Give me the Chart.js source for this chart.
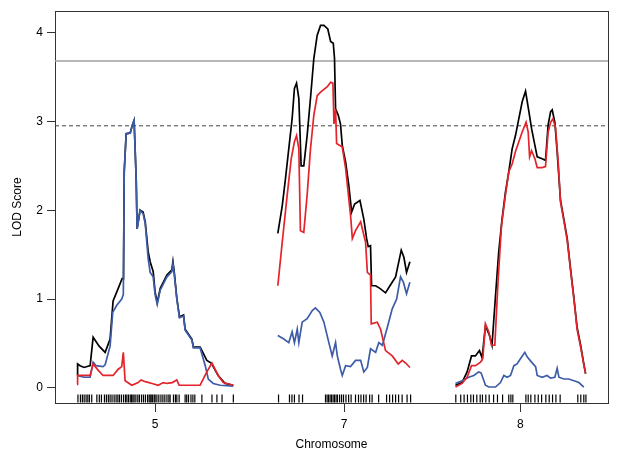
<!DOCTYPE html>
<html>
<head>
<meta charset="utf-8">
<script src="https://cdn.jsdelivr.net/npm/chart.js@4.4.0/dist/chart.umd.min.js"></script>
<style>
  html, body { margin: 0; padding: 0; background: #fff; }
  canvas { display: block; }
</style>
</head>
<body>
<canvas id="lodChart" width="619" height="455"></canvas>
<script>
/*
  DATA (positions in cM within each chromosome, LOD scores)
*/
const chromNames = ["5", "7", "8"];
const chromLengths = [88.5, 75.4, 74.3];
const chromGap = 25;
const yTickValues = [0, 1, 2, 3, 4];

const thresholdSolid = 3.68;
const thresholdDashed = 2.95;

// chromosome 5
const chr5BlackPos = [0, 0.3, 1.7, 4.0, 7.4, 9.1, 12.5, 15.9, 18.7, 20.4, 23.3, 25.5, 26.3, 26.7, 27.8, 30.1, 31.2, 32.3, 33.5, 34.0, 35.7, 37.4, 38.6, 40.3, 41.4, 43.1, 44.2, 45.4, 47.1, 50.9, 53.7, 54.3, 55.0, 56.5, 58.0, 60.3, 61.2, 65.0, 65.9, 69.7, 73.5, 76.0, 79.9, 83.9, 88.5];
const chr5BlackLod = [0.14, 0.27, 0.25, 0.23, 0.25, 0.57, 0.47, 0.40, 0.55, 0.98, 1.12, 1.23, 1.23, 2.43, 2.86, 2.87, 2.95, 3.01, 2.34, 1.79, 2.00, 1.98, 1.87, 1.53, 1.42, 1.31, 1.08, 0.96, 1.12, 1.27, 1.33, 1.42, 1.31, 1.01, 0.80, 0.82, 0.66, 0.55, 0.46, 0.46, 0.31, 0.28, 0.14, 0.05, 0.03];
const chr5BluePos = [0, 4.0, 7.4, 9.1, 10.8, 14.7, 15.9, 18.7, 20.2, 22.5, 25.3, 26.2, 26.7, 27.8, 30.1, 31.2, 32.3, 33.5, 34.0, 35.7, 37.4, 38.6, 40.3, 41.4, 43.1, 44.2, 45.4, 47.1, 50.9, 53.7, 54.3, 55.0, 56.5, 58.0, 60.3, 61.2, 65.0, 65.9, 69.7, 72.6, 74.3, 77.1, 81.1, 88.5];
const chr5BlueLod = [0.14, 0.12, 0.12, 0.29, 0.25, 0.24, 0.26, 0.47, 0.85, 0.93, 1.00, 1.05, 2.43, 2.86, 2.87, 2.95, 3.01, 2.34, 1.79, 2.00, 1.96, 1.85, 1.45, 1.30, 1.25, 1.05, 0.94, 1.10, 1.25, 1.31, 1.40, 1.29, 1.00, 0.79, 0.81, 0.65, 0.54, 0.45, 0.45, 0.25, 0.10, 0.05, 0.03, 0.02];
const chr5RedPos = [0, 0.3, 4.0, 7.4, 9.1, 11.9, 14.7, 20.4, 23.3, 25.3, 26.2, 27.2, 31.0, 34.6, 36.3, 38.6, 42.5, 45.9, 48.8, 51.0, 53.9, 56.5, 57.8, 69.7, 73.5, 76.4, 79.9, 82.8, 88.5];
const chr5RedLod = [0.04, 0.14, 0.14, 0.14, 0.27, 0.20, 0.14, 0.14, 0.21, 0.24, 0.40, 0.08, 0.03, 0.06, 0.09, 0.07, 0.05, 0.03, 0.06, 0.05, 0.06, 0.09, 0.03, 0.03, 0.18, 0.28, 0.14, 0.06, 0.03];

// chromosome 7
const chr7BlackPos = [0.2, 2.7, 4.5, 6.4, 8.3, 9.6, 10.8, 12.1, 13.4, 14.9, 16.8, 18.7, 20.6, 22.5, 24.4, 26.3, 28.5, 30.1, 31.6, 32.3, 32.9, 34.4, 35.7, 36.7, 38.6, 40.4, 42.0, 43.7, 46.7, 48.9, 50.5, 51.4, 52.7, 53.3, 55.6, 58.0, 61.2, 63.7, 66.9, 70.1, 71.6, 73.1, 75.0];
const chr7BlackLod = [1.74, 2.05, 2.35, 2.69, 3.03, 3.37, 3.43, 3.26, 2.50, 2.50, 2.84, 3.26, 3.71, 3.97, 4.08, 4.08, 4.04, 3.90, 3.88, 3.71, 3.14, 3.07, 2.97, 2.73, 2.54, 2.28, 1.98, 2.07, 2.11, 1.90, 1.68, 1.59, 1.60, 1.15, 1.15, 1.12, 1.07, 1.15, 1.25, 1.55, 1.47, 1.30, 1.42];
const chr7BluePos = [0.2, 3.6, 6.4, 8.3, 9.6, 11.2, 12.1, 14.0, 16.8, 19.7, 21.5, 24.0, 26.3, 29.1, 31.0, 32.9, 33.9, 35.7, 36.7, 38.6, 41.4, 44.2, 47.1, 48.9, 50.9, 52.7, 55.6, 57.4, 59.4, 62.2, 65.0, 67.5, 69.7, 71.3, 73.1, 75.0];
const chr7BlueLod = [0.59, 0.55, 0.51, 0.63, 0.51, 0.66, 0.51, 0.74, 0.78, 0.87, 0.90, 0.85, 0.74, 0.51, 0.36, 0.51, 0.36, 0.21, 0.14, 0.25, 0.24, 0.31, 0.31, 0.18, 0.23, 0.44, 0.40, 0.51, 0.48, 0.68, 0.89, 1.00, 1.25, 1.19, 1.06, 1.19];
const chr7RedPos = [0.2, 2.7, 5.5, 7.8, 9.6, 10.8, 12.1, 13.0, 14.9, 16.8, 18.7, 20.6, 22.5, 24.4, 28.2, 30.1, 31.4, 32.0, 32.9, 33.5, 36.7, 38.6, 41.4, 42.4, 44.2, 47.1, 49.9, 50.9, 52.7, 53.1, 56.5, 58.4, 61.2, 65.0, 68.4, 70.7, 72.6, 75.0];
const chr7RedLod = [1.15, 1.64, 2.17, 2.58, 2.77, 2.84, 2.69, 1.77, 1.75, 2.17, 2.69, 3.07, 3.29, 3.33, 3.39, 3.44, 3.43, 2.97, 3.14, 2.75, 2.71, 2.47, 1.94, 1.68, 1.77, 1.87, 1.64, 1.30, 1.27, 0.72, 0.74, 0.66, 0.42, 0.36, 0.27, 0.31, 0.28, 0.23];

// chromosome 8
const chr8BlackPos = [0.4, 4.1, 7.0, 9.5, 11.7, 14.0, 15.5, 17.4, 19.7, 21.1, 23.1, 24.9, 26.8, 28.7, 30.6, 32.5, 34.4, 36.3, 38.2, 40.1, 42.0, 43.5, 45.4, 46.7, 49.5, 51.4, 52.9, 54.3, 55.2, 56.7, 58.0, 59.9, 61.8, 63.7, 65.6, 67.5, 69.3, 71.3, 73.1, 74.1];
const chr8BlackLod = [0.03, 0.06, 0.18, 0.36, 0.36, 0.42, 0.34, 0.70, 0.59, 0.48, 1.04, 1.53, 1.90, 2.20, 2.43, 2.69, 2.84, 3.03, 3.22, 3.34, 3.11, 2.92, 2.73, 2.60, 2.58, 2.56, 2.96, 3.11, 3.13, 2.99, 2.66, 2.11, 1.90, 1.68, 1.34, 1.01, 0.68, 0.48, 0.27, 0.16];
const chr8BluePos = [0.4, 4.1, 7.9, 10.8, 13.6, 14.9, 17.4, 19.3, 23.1, 25.9, 27.8, 29.7, 31.6, 33.5, 35.3, 37.3, 39.7, 41.0, 43.5, 45.8, 46.7, 49.5, 52.3, 54.3, 56.7, 58.0, 59.0, 61.8, 64.6, 67.5, 70.3, 73.1];
const chr8BlueLod = [0.05, 0.08, 0.12, 0.14, 0.18, 0.17, 0.03, 0.01, 0.01, 0.06, 0.14, 0.12, 0.14, 0.25, 0.27, 0.33, 0.40, 0.35, 0.29, 0.24, 0.14, 0.12, 0.14, 0.11, 0.12, 0.22, 0.12, 0.10, 0.10, 0.08, 0.06, 0.01];
const chr8RedPos = [0.4, 4.1, 7.0, 9.5, 11.7, 14.6, 15.9, 17.4, 19.3, 20.8, 22.7, 24.6, 26.5, 28.7, 30.6, 32.5, 34.4, 36.3, 38.2, 40.4, 41.6, 42.4, 43.5, 45.4, 46.7, 49.5, 51.4, 52.9, 54.3, 55.6, 57.1, 58.6, 59.9, 61.8, 63.7, 65.6, 67.5, 69.3, 71.3, 73.1, 74.1];
const chr8RedLod = [0.01, 0.05, 0.12, 0.25, 0.25, 0.29, 0.33, 0.72, 0.63, 0.48, 0.48, 1.23, 1.83, 2.17, 2.43, 2.52, 2.66, 2.77, 2.88, 2.99, 2.88, 2.60, 2.67, 2.58, 2.48, 2.48, 2.49, 2.88, 2.99, 3.03, 2.93, 2.54, 2.09, 1.88, 1.66, 1.32, 1.00, 0.66, 0.46, 0.26, 0.16];

// marker positions (rug)
const chr5Markers = [0.5, 1.9, 3.0, 4.0, 5.1, 6.1, 7.0, 8.3, 11.2, 12.6, 13.8, 15.5, 16.6, 17.7, 18.7, 19.8, 21.0, 22.1, 23.1, 24.0, 25.1, 26.3, 27.4, 28.2, 29.1, 30.1, 30.8, 31.6, 32.3, 33.3, 34.4, 35.3, 36.5, 37.6, 38.7, 39.9, 40.8, 41.4, 42.0, 42.8, 43.7, 44.2, 45.2, 46.3, 47.5, 48.6, 49.7, 50.9, 52.0, 52.7, 54.6, 55.7, 56.5, 57.8, 61.2, 62.1, 63.1, 64.5, 65.6, 66.7, 70.7, 76.4, 79.2, 82.1, 88.5];
const chr7Markers = [0.6, 6.8, 8.2, 9.6, 12.2, 14.2, 27.2, 28.1, 28.9, 29.8, 30.6, 31.5, 32.3, 33.2, 34.0, 35.2, 36.3, 37.4, 38.8, 40.3, 41.7, 44.2, 45.9, 47.3, 48.8, 50.2, 52.2, 53.6, 57.3, 61.8, 63.5, 65.2, 66.9, 68.6, 70.6, 73.4, 75.4];
const chr8Markers = [0.6, 3.4, 5.3, 7.2, 9.1, 10.6, 12.5, 14.4, 15.7, 17.6, 19.5, 22.0, 24.2, 27.1, 30.6, 31.8, 32.9, 40.3, 41.6, 43.1, 45.4, 47.3, 49.2, 51.6, 53.5, 55.4, 57.3, 59.7, 69.7, 71.4, 73.1, 74.3];

/*
  LAYOUT HELPERS
*/
const offsets = [];
let acc = chromGap / 2;
chromLengths.forEach((len) => {
  offsets.push(acc);
  acc += len + chromGap;
});
const xMax = acc - chromGap / 2;
const chromMids = chromLengths.map((len, i) => offsets[i] + len / 2);

function toPoints(chr, pos, lod) {
  return pos.map((p, i) => ({ x: offsets[chr] + p, y: lod[i] }));
}

const BLACK = "#000000";
const RED = "#e3242b";
const BLUE = "#3d5ca8";
const FONT = { family: "'Liberation Sans', Arial, Helvetica, sans-serif", size: 12 };
const AXIS = "#333333";

function lodLine(data, color, order) {
  return {
    data: data,
    borderColor: color,
    borderWidth: 1.7,
    pointRadius: 0,
    showLine: true,
    fill: false,
    tension: 0,
    order: order,
  };
}

const series = [
  [chr5BlackPos, chr5BlackLod, chr5BluePos, chr5BlueLod, chr5RedPos, chr5RedLod],
  [chr7BlackPos, chr7BlackLod, chr7BluePos, chr7BlueLod, chr7RedPos, chr7RedLod],
  [chr8BlackPos, chr8BlackLod, chr8BluePos, chr8BlueLod, chr8RedPos, chr8RedLod],
];

const datasets = [];
series.forEach((s, chr) => {
  datasets.push(lodLine(toPoints(chr, s[0], s[1]), BLACK, 3));
  datasets.push(lodLine(toPoints(chr, s[2], s[3]), BLUE, 2));
  datasets.push(lodLine(toPoints(chr, s[4], s[5]), RED, 1));
});

// significance thresholds
datasets.push({
  data: [{ x: 0, y: thresholdSolid }, { x: xMax, y: thresholdSolid }],
  borderColor: "#a0a0a0",
  borderWidth: 1.6,
  pointRadius: 0,
  showLine: true,
  order: 5,
});
datasets.push({
  data: [{ x: 0, y: thresholdDashed }, { x: xMax, y: thresholdDashed }],
  borderColor: "#444444",
  borderWidth: 1,
  borderDash: [4, 3],
  pointRadius: 0,
  showLine: true,
  order: 5,
});

// marker rug
const rug = []
  .concat(chr5Markers.map((p) => ({ x: offsets[0] + p, y: -0.12 })))
  .concat(chr7Markers.map((p) => ({ x: offsets[1] + p, y: -0.12 })))
  .concat(chr8Markers.map((p) => ({ x: offsets[2] + p, y: -0.12 })));
datasets.push({
  data: rug,
  showLine: false,
  pointStyle: "line",
  rotation: 90,
  pointRadius: 4,
  pointBorderWidth: 1.2,
  borderColor: BLACK,
  pointBorderColor: BLACK,
  order: 6,
});

const ctx = document.getElementById("lodChart").getContext("2d");

new Chart(ctx, {
  type: "scatter",
  data: { datasets: datasets },
  options: {
    responsive: false,
    animation: false,
    devicePixelRatio: 1,
    layout: { padding: 0 },
    plugins: { legend: { display: false }, tooltip: { enabled: false } },
    scales: {
      x: {
        type: "linear",
        position: "bottom",
        min: 0,
        max: xMax,
        afterBuildTicks: (scale) => {
          scale.ticks = chromMids.map((v) => ({ value: v }));
        },
        afterFit: (scale) => {
          scale.height = 52;
        },
        ticks: {
          autoSkip: false,
          maxRotation: 0,
          padding: 5,
          color: "#000",
          font: FONT,
          callback: (value, index) => chromNames[index],
        },
        grid: { drawOnChartArea: false, drawTicks: true, tickLength: 9, color: AXIS },
        border: { display: true, color: AXIS, width: 1 },
        title: {
          display: true,
          text: "Chromosome",
          color: "#000",
          font: FONT,
          padding: { top: 0, bottom: 3 },
        },
      },
      x2: {
        type: "linear",
        position: "top",
        min: 0,
        max: xMax,
        ticks: { display: false },
        grid: { display: false, drawTicks: false },
        border: { display: true, color: AXIS, width: 1 },
        afterFit: (scale) => {
          scale.height = 11;
        },
      },
      y: {
        type: "linear",
        position: "left",
        min: -0.17,
        max: 4.24,
        afterBuildTicks: (scale) => {
          scale.ticks = yTickValues.map((v) => ({ value: v }));
        },
        afterFit: (scale) => {
          scale.width = 55;
        },
        ticks: { padding: 4, color: "#000", font: FONT },
        grid: { drawOnChartArea: false, drawTicks: true, tickLength: 8, color: AXIS },
        border: { display: true, color: AXIS, width: 1 },
        title: {
          display: true,
          text: "LOD Score",
          color: "#000",
          font: FONT,
          padding: { top: 10, bottom: 0 },
        },
      },
      y2: {
        type: "linear",
        position: "right",
        min: -0.17,
        max: 4.24,
        ticks: { display: false },
        grid: { display: false, drawTicks: false },
        border: { display: true, color: AXIS, width: 1 },
        afterFit: (scale) => {
          scale.width = 11;
        },
      },
    },
  },
});
</script>
</body>
</html>
